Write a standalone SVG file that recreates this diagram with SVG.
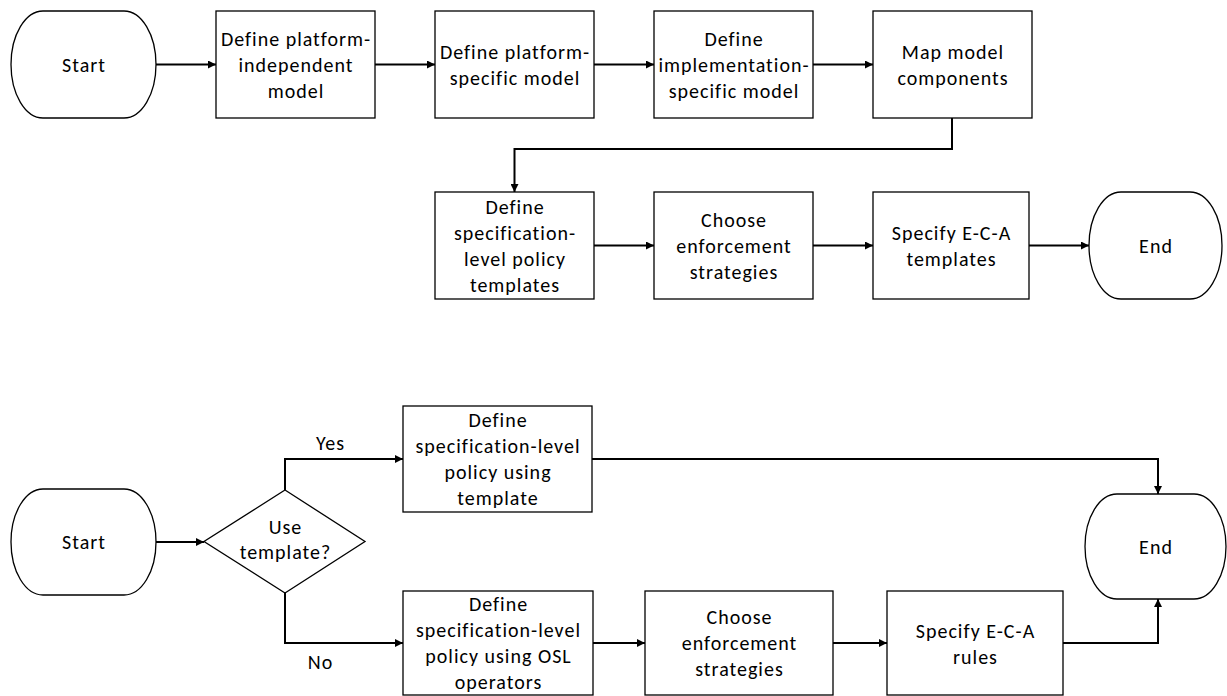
<svg xmlns="http://www.w3.org/2000/svg" width="1227" height="696" viewBox="0 0 1227 696">
  <defs>
    <marker id="arrow" viewBox="0 0 10 10" refX="10" refY="5" markerWidth="8" markerHeight="8" markerUnits="userSpaceOnUse" orient="auto">
      <path d="M0,0 L10,5 L0,10 Z" fill="#000"/>
    </marker>
    <style>
      .box { fill: #fff; stroke: #000; stroke-width: 1.3; }
      .edge { fill: none; stroke: #000; stroke-width: 2; marker-end: url(#arrow); }
      text { font-family: Carlito, Calibri, Lato, "Liberation Sans", sans-serif; font-size: 20px; letter-spacing: 1px; fill: #000; text-anchor: middle; }
    </style>
  </defs>
  <rect width="1227" height="696" fill="#fff"/>

  <!-- Process 1: model definition and policy templates -->
  <g id="p1-start">
    <rect class="box" x="11" y="11" width="145" height="107" rx="32" ry="53.5"/>
    <text x="84" y="72">Start</text>
  </g>
  <g id="p1-pim">
    <rect class="box" x="216" y="11" width="159" height="107"/>
    <text x="296" y="46">Define platform-</text>
    <text x="296" y="72">independent</text>
    <text x="296" y="98">model</text>
  </g>
  <g id="p1-psm">
    <rect class="box" x="435" y="11" width="159" height="107"/>
    <text x="515" y="59">Define platform-</text>
    <text x="515" y="85">specific model</text>
  </g>
  <g id="p1-ism">
    <rect class="box" x="654" y="11" width="159" height="107"/>
    <text x="734" y="46">Define</text>
    <text x="734" y="72">implementation-</text>
    <text x="734" y="98">specific model</text>
  </g>
  <g id="p1-map">
    <rect class="box" x="873" y="11" width="159" height="107"/>
    <text x="953" y="59">Map model</text>
    <text x="953" y="85">components</text>
  </g>
  <g id="p1-templates">
    <rect class="box" x="435" y="192" width="159" height="107"/>
    <text x="515" y="214">Define</text>
    <text x="515" y="240">specification-</text>
    <text x="515" y="266">level policy</text>
    <text x="515" y="292">templates</text>
  </g>
  <g id="p1-enforce">
    <rect class="box" x="654" y="192" width="159" height="107"/>
    <text x="734" y="227">Choose</text>
    <text x="734" y="253">enforcement</text>
    <text x="734" y="279">strategies</text>
  </g>
  <g id="p1-eca">
    <rect class="box" x="873" y="192" width="156" height="107"/>
    <text x="951.5" y="240">Specify E-C-A</text>
    <text x="951.5" y="266">templates</text>
  </g>
  <g id="p1-end">
    <rect class="box" x="1089" y="192" width="133" height="107" rx="32" ry="53.5"/>
    <text x="1156" y="253">End</text>
  </g>

  <!-- Process 2: policy specification -->
  <g id="p2-start">
    <rect class="box" x="11" y="489" width="145" height="106" rx="32" ry="53"/>
    <text x="84" y="549">Start</text>
  </g>
  <g id="p2-decision">
    <polygon class="box" points="285,490 365,541.5 285,593 204,541.5"/>
    <text x="285.5" y="534">Use</text>
    <text x="285.5" y="559">template?</text>
  </g>
  <g id="p2-template">
    <rect class="box" x="403" y="406" width="189" height="106"/>
    <text x="498" y="427">Define</text>
    <text x="498" y="453">specification-level</text>
    <text x="498" y="479">policy using</text>
    <text x="498" y="505">template</text>
  </g>
  <g id="p2-osl">
    <rect class="box" x="403" y="591" width="190" height="104"/>
    <text x="498.5" y="611">Define</text>
    <text x="498.5" y="637">specification-level</text>
    <text x="498.5" y="663">policy using OSL</text>
    <text x="498.5" y="689">operators</text>
  </g>
  <g id="p2-enforce">
    <rect class="box" x="645" y="591" width="188" height="104"/>
    <text x="739.5" y="624">Choose</text>
    <text x="739.5" y="650">enforcement</text>
    <text x="739.5" y="676">strategies</text>
  </g>
  <g id="p2-eca">
    <rect class="box" x="887" y="591" width="176" height="104"/>
    <text x="975.5" y="638">Specify E-C-A</text>
    <text x="975.5" y="664">rules</text>
  </g>
  <g id="p2-end">
    <rect class="box" x="1085" y="494" width="141" height="105" rx="32" ry="52.5"/>
    <text x="1156" y="554">End</text>
  </g>

  <!-- Connectors -->
  <g id="connectors">
    <path class="edge" d="M156,64.5 H216"/>
    <path class="edge" d="M375,64.5 H435"/>
    <path class="edge" d="M594,64.5 H654"/>
    <path class="edge" d="M813,64.5 H873"/>
    <path class="edge" d="M952,118 V149 H514.5 V192"/>
    <path class="edge" d="M594,245.5 H654"/>
    <path class="edge" d="M813,245.5 H873"/>
    <path class="edge" d="M1029,245.5 H1089"/>

    <path class="edge" d="M156,542 H204"/>
    <path class="edge" d="M285,490 V459 H403"/>
    <path class="edge" d="M285,593 V643 H403"/>
    <path class="edge" d="M593,643 H645"/>
    <path class="edge" d="M833,643 H887"/>
    <path class="edge" d="M592,459 H1158 V494"/>
    <path class="edge" d="M1063,643 H1158 V599"/>
    <text x="330.5" y="450">Yes</text>
    <text x="320.5" y="669">No</text>
  </g>
</svg>
